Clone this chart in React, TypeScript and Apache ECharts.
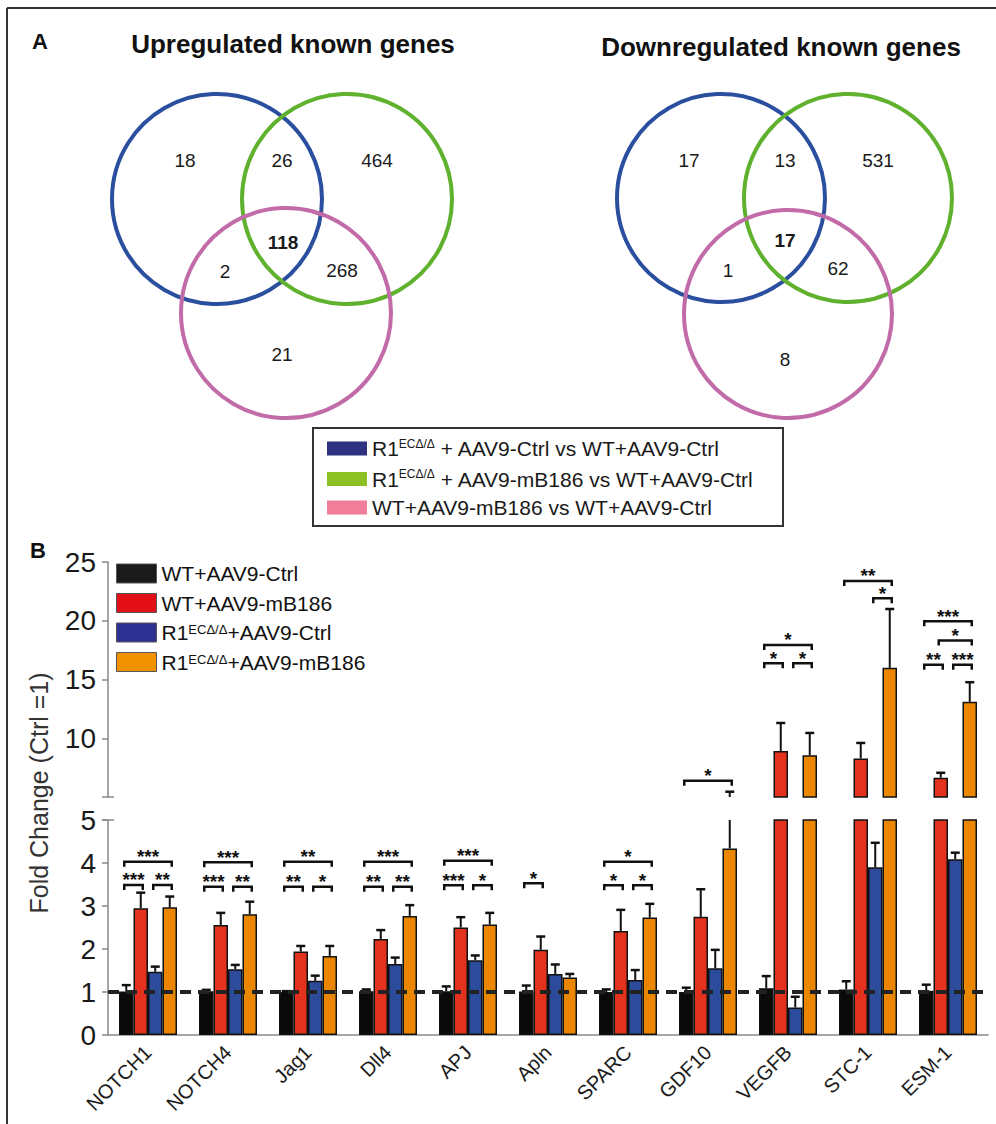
import React, { useEffect, useRef } from 'react';
import * as echarts from 'echarts';

// ---------- Panel A data ----------
const vennTitles = ['Upregulated known genes', 'Downregulated known genes'];
// region order: blue only, blue∩green, green only, all three, blue∩pink, green∩pink, pink only
const upCounts = [18, 26, 464, 118, 2, 268, 21];
const downCounts = [17, 13, 531, 17, 1, 62, 8];
const vennLegend = [
  ['R1', 'ECΔ/Δ', ' + AAV9-Ctrl vs WT+AAV9-Ctrl'],
  ['R1', 'ECΔ/Δ', ' + AAV9-mB186 vs WT+AAV9-Ctrl'],
  ['WT+AAV9-mB186 vs WT+AAV9-Ctrl', '', ''],
];

// ---------- Panel B data ----------
const genes = ['NOTCH1', 'NOTCH4', 'Jag1', 'Dll4', 'APJ', 'Apln', 'SPARC', 'GDF10', 'VEGFB', 'STC-1', 'ESM-1'];
const groupNames = ['WT+AAV9-Ctrl', 'WT+AAV9-mB186', 'R1ECΔ/Δ+AAV9-Ctrl', 'R1ECΔ/Δ+AAV9-mB186'];
const wtCtrl = [1.01, 1.02, 1.0, 1.02, 1.02, 1.01, 1.0, 1.0, 1.09, 1.06, 1.03];
const wtCtrlErr = [1.16, 1.05, 1.02, 1.06, 1.13, 1.15, 1.06, 1.1, 1.37, 1.25, 1.17];
const wtMb = [2.95, 2.56, 1.94, 2.23, 2.5, 1.98, 2.42, 2.75, 8.92, 8.28, 6.64];
const wtMbErr = [3.31, 2.84, 2.07, 2.44, 2.74, 2.29, 2.91, 3.39, 11.3, 9.6, 7.06];
const koCtrl = [1.47, 1.53, 1.26, 1.65, 1.74, 1.42, 1.28, 1.55, 0.64, 3.9, 4.09];
const koCtrlErr = [1.59, 1.63, 1.38, 1.8, 1.85, 1.64, 1.51, 1.98, 0.89, 4.47, 4.24];
const koMb = [2.97, 2.81, 1.84, 2.77, 2.57, 1.34, 2.73, 4.34, 8.56, 15.99, 13.1];
const koMbErr = [3.22, 3.1, 2.07, 3.02, 2.84, 1.42, 3.05, 5.45, 10.45, 21.0, 14.77];
const lowerTicks = [0, 1, 2, 3, 4, 5];
const upperTicks = [5, 10, 15, 20, 25];
// significance brackets: [gene index, from bar, to bar, level, stars]
const brackets: [number, number, number, number, string][] = [
  [0, 0, 3, 4.03, '***'], [0, 0, 1, 3.49, '***'], [0, 2, 3, 3.49, '**'],
  [1, 0, 3, 4.02, '***'], [1, 0, 1, 3.45, '***'], [1, 2, 3, 3.45, '**'],
  [2, 0, 3, 4.03, '**'], [2, 0, 1, 3.45, '**'], [2, 2, 3, 3.45, '*'],
  [3, 0, 3, 4.03, '***'], [3, 0, 1, 3.45, '**'], [3, 2, 3, 3.45, '**'],
  [4, 0, 3, 4.05, '***'], [4, 0, 1, 3.48, '***'], [4, 2, 3, 3.48, '*'],
  [5, 0, 1, 3.53, '*'],
  [6, 0, 3, 4.03, '*'], [6, 0, 1, 3.48, '*'], [6, 2, 3, 3.48, '*'],
  [7, 0, 3, 6.38, '*'],
  [8, 0, 3, 17.94, '*'], [8, 0, 1, 16.38, '*'], [8, 2, 3, 16.38, '*'],
  [9, 0, 3, 23.39, '**'], [9, 2, 3, 21.92, '*'],
  [10, 0, 3, 19.95, '***'], [10, 1, 3, 18.31, '*'], [10, 0, 1, 16.25, '**'], [10, 2, 3, 16.25, '***'],
];

const FONT = 'Arial, "Liberation Sans", Helvetica, sans-serif';
const barColors = ['#0a0a0a', '#e3331f', '#2d4b9b', '#ea8600'];
const legendColors = ['#1a1a1a', '#e3101a', '#2e3192', '#f39200'];
const vennColors = ['#2b4f9f', '#5fb12e', '#c26ba9'];
const vennLegendColors = ['#2e3180', '#8cc024', '#f07d99'];

const BREAK = 5;
const BAR_GAP = 0.275;

// layout of Venn diagrams (positions only)
const vennLayouts = [
  {
    titleX: 293, titleY: 44,
    circles: [[217, 199], [347, 199], [286, 313]], r: 105,
    labels: [[185, 160], [282, 160], [377, 160], [283, 242], [225, 271], [342, 270], [282, 354]],
  },
  {
    titleX: 781, titleY: 47,
    circles: [[721, 198], [848, 198], [788, 314]], r: 104,
    labels: [[689, 160], [785, 160], [878, 160], [785, 240], [728, 270], [838, 268], [785, 359]],
  },
];

function buildGraphics() {
  const g: any[] = [];
  // frame
  g.push({ type: 'line', shape: { x1: 7, y1: 8, x2: 996, y2: 8 }, style: { stroke: '#333', lineWidth: 2 } });
  g.push({ type: 'line', shape: { x1: 7, y1: 8, x2: 7, y2: 1124 }, style: { stroke: '#333', lineWidth: 2 } });
  g.push({ type: 'text', x: 40, y: 41, style: { text: 'A', font: `bold 22px ${FONT}`, fill: '#111', align: 'center', verticalAlign: 'middle' } });
  g.push({ type: 'text', x: 38, y: 550, style: { text: 'B', font: `bold 22px ${FONT}`, fill: '#111', align: 'center', verticalAlign: 'middle' } });
  const counts = [upCounts, downCounts];
  vennLayouts.forEach((L, vi) => {
    g.push({ type: 'text', x: L.titleX, y: L.titleY, style: { text: vennTitles[vi], font: `bold 26px ${FONT}`, fill: '#111', align: 'center', verticalAlign: 'middle' } });
    L.circles.forEach((c, ci) => {
      g.push({ type: 'circle', shape: { cx: c[0], cy: c[1], r: L.r }, style: { fill: 'none', stroke: vennColors[ci], lineWidth: 4 } });
    });
    L.labels.forEach((p, li) => {
      g.push({
        type: 'text', x: p[0], y: p[1], z: 10,
        style: { text: String(counts[vi][li]), font: `${li === 3 ? 'bold ' : ''}19px ${FONT}`, fill: '#1a1a1a', align: 'center', verticalAlign: 'middle' },
      });
    });
  });
  // Venn legend
  g.push({ type: 'rect', shape: { x: 313, y: 428, width: 470, height: 98 }, style: { fill: 'none', stroke: '#333', lineWidth: 2 } });
  const rowsY = [448.5, 479, 507.5];
  vennLegend.forEach((row, i) => {
    g.push({ type: 'rect', shape: { x: 327, y: rowsY[i] - 7, width: 40, height: 14 }, style: { fill: vennLegendColors[i] } });
    const txt = row[1] ? `{n|${row[0]}}{s|${row[1]}}{n|${row[2]}}` : `{n|${row[0]}}`;
    g.push({
      type: 'text', x: 372, y: rowsY[i],
      style: {
        text: txt, align: 'left', verticalAlign: 'middle',
        rich: {
          n: { fontSize: 21, fontFamily: FONT, fill: '#1a1a1a', lineHeight: 22 },
          s: { fontSize: 12, fontFamily: FONT, fill: '#1a1a1a', lineHeight: 12, verticalAlign: 'top' },
        },
      },
    });
  });
  // y axis title
  g.push({ type: 'text', x: 39, y: 793, rotation: Math.PI / 2, style: { text: 'Fold Change (Ctrl =1)', font: `25px ${FONT}`, fill: '#333', align: 'center', verticalAlign: 'middle' } });
  // axis break caps
  g.push({ type: 'line', shape: { x1: 102, y1: 797, x2: 114, y2: 797 }, style: { stroke: '#888', lineWidth: 1.5 } });
  g.push({ type: 'line', shape: { x1: 102, y1: 820, x2: 114, y2: 820 }, style: { stroke: '#888', lineWidth: 1.5 } });
  return g;
}

const allVals = [wtCtrl, wtMb, koCtrl, koMb];
const allErrs = [wtCtrlErr, wtMbErr, koCtrlErr, koMbErr];

function errData() {
  const d: number[][] = [];
  genes.forEach((_, ci) => {
    for (let b = 0; b < 4; b++) d.push([ci, b, allVals[b][ci], allErrs[b][ci]]);
  });
  return d;
}

function barX(api: any, ci: number, bi: number) {
  const band = api.size([1, 0])[0];
  const bw = (band * (1 - BAR_GAP)) / 4;
  return api.coord([ci, 0])[0] + (bi - 1.5) * bw;
}

function makeErrRender(upper: boolean) {
  return (params: any, api: any) => {
    const ci = api.value(0), bi = api.value(1), v = api.value(2), e = api.value(3);
    const x = barX(api, ci, bi);
    const children: any[] = [];
    let y0: number, y1: number, cap: boolean;
    if (!upper) {
      if (v >= BREAK) return null;
      y0 = v; y1 = Math.min(e, BREAK); cap = e <= BREAK;
    } else {
      if (e <= BREAK) return null;
      y0 = Math.max(v, BREAK); y1 = e; cap = true;
    }
    const p0 = api.coord([ci, y0]);
    const p1 = api.coord([ci, y1]);
    children.push({ type: 'line', shape: { x1: x, y1: p0[1], x2: x, y2: p1[1] }, style: { stroke: '#111', lineWidth: 2 } });
    if (cap) children.push({ type: 'line', shape: { x1: x - 4.5, y1: p1[1], x2: x + 4.5, y2: p1[1] }, style: { stroke: '#111', lineWidth: 2.5 } });
    return { type: 'group', children };
  };
}

function makeBracketRender(list: [number, number, number, number, string][]) {
  return (params: any, api: any) => {
    const [ci, b0, b1, lvl, stars] = list[params.dataIndex];
    const xa = barX(api, ci, b0) - 2;
    const xb = barX(api, ci, b1) + 2;
    const y = api.coord([ci, lvl])[1];
    return {
      type: 'group',
      children: [
        { type: 'polyline', shape: { points: [[xa, y + 5], [xa, y], [xb, y], [xb, y + 5]] }, style: { stroke: '#111', lineWidth: 2.5, fill: 'none' } },
        { type: 'text', x: (xa + xb) / 2, y: y - 5, style: { text: stars, font: `bold 19px ${FONT}`, lineHeight: 12, fill: '#111', align: 'center', verticalAlign: 'middle' } },
      ],
    };
  };
}

export default function App() {
  const ref = useRef<HTMLDivElement>(null);
  useEffect(() => {
    if (!ref.current) return;
    const chart = echarts.init(ref.current, null, { renderer: 'svg' });
    const lowerBr = brackets.filter((b) => b[3] < BREAK);
    const upperBr = brackets.filter((b) => b[3] >= BREAK);
    const yAxisCommon = {
      type: 'value',
      splitLine: { show: false },
      axisLine: { show: true, lineStyle: { color: '#888', width: 1.5 } },
      axisTick: { show: true, length: 6, lineStyle: { color: '#888', width: 1.5 } },
      axisLabel: { fontSize: 28, color: '#1a1a1a', margin: 12, fontFamily: FONT },
    };
    const series: any[] = [];
    groupNames.forEach((name, b) => {
      series.push({
        name, type: 'bar', xAxisIndex: 0, yAxisIndex: 0, data: allVals[b], clip: true,
        barGap: '0%', barCategoryGap: `${BAR_GAP * 100}%`,
        itemStyle: { color: barColors[b], borderColor: '#111', borderWidth: 1.5 },
      });
    });
    groupNames.forEach((name, b) => {
      series.push({
        name, type: 'bar', xAxisIndex: 1, yAxisIndex: 1,
        data: allVals[b].map((v) => (v > BREAK ? v : '-')), clip: true,
        barGap: '0%', barCategoryGap: `${BAR_GAP * 100}%`,
        itemStyle: { color: barColors[b], borderColor: '#111', borderWidth: 1.5 },
      });
    });
    series.push({
      type: 'custom', xAxisIndex: 0, yAxisIndex: 0, data: errData(), renderItem: makeErrRender(false), z: 5,
      markLine: {
        silent: true, symbol: ['none', 'none'], z: 20, label: { show: false },
        lineStyle: { type: [11, 7], width: 4, color: '#222' },
        data: [{ yAxis: 1 }],
      },
    });
    series.push({ type: 'custom', xAxisIndex: 1, yAxisIndex: 1, data: errData(), renderItem: makeErrRender(true), z: 5 });
    series.push({ type: 'custom', xAxisIndex: 0, yAxisIndex: 0, data: lowerBr.map((b) => [b[0], b[3]]), renderItem: makeBracketRender(lowerBr), z: 6 });
    series.push({ type: 'custom', xAxisIndex: 1, yAxisIndex: 1, data: upperBr.map((b) => [b[0], b[3]]), renderItem: makeBracketRender(upperBr), z: 6 });

    const option: any = {
      animation: false,
      textStyle: { fontFamily: FONT },
      graphic: buildGraphics(),
      legend: {
        left: 116, top: 563, padding: 0, orient: 'vertical', itemWidth: 40, itemHeight: 19, itemGap: 8.5,
        icon: 'rect', selectedMode: false,
        data: groupNames.map((n, i) => ({ name: n, itemStyle: { color: legendColors[i], borderColor: '#555', borderWidth: 1 } })),
        formatter: (name: string) => {
          if (name.startsWith('R1ECΔ/Δ')) return `{n|R1}{s|ECΔ/Δ}{n|${name.slice(7)}}`;
          return `{n|${name}}`;
        },
        textStyle: {
          rich: {
            n: { fontSize: 21, fontFamily: FONT, color: '#111', lineHeight: 19 },
            s: { fontSize: 13, fontFamily: FONT, color: '#111', lineHeight: 10, verticalAlign: 'top' },
          },
        },
      },
      grid: [
        { left: 108, width: 880, top: 820, height: 215 },
        { left: 108, width: 880, top: 562, height: 235 },
      ],
      xAxis: [
        {
          type: 'category', gridIndex: 0, data: genes,
          axisLine: { lineStyle: { color: '#888', width: 1.5 } },
          axisTick: { show: false },
          axisLabel: { rotate: 45, fontSize: 20, color: '#1a1a1a', interval: 0, margin: 14, fontFamily: FONT },
        },
        { type: 'category', gridIndex: 1, data: genes, show: false },
      ],
      yAxis: [
        { ...yAxisCommon, gridIndex: 0, min: lowerTicks[0], max: lowerTicks[lowerTicks.length - 1], interval: 1 },
        {
          ...yAxisCommon, gridIndex: 1, min: upperTicks[0], max: upperTicks[upperTicks.length - 1], interval: 5,
          axisLabel: { ...yAxisCommon.axisLabel, showMinLabel: false },
        },
      ],
      series,
    };
    chart.setOption(option);
    return () => chart.dispose();
  }, []);
  return <div ref={ref} style={{ position: 'absolute', left: 0, top: 0, width: 996, height: 1124, background: '#fff' }} />;
}
